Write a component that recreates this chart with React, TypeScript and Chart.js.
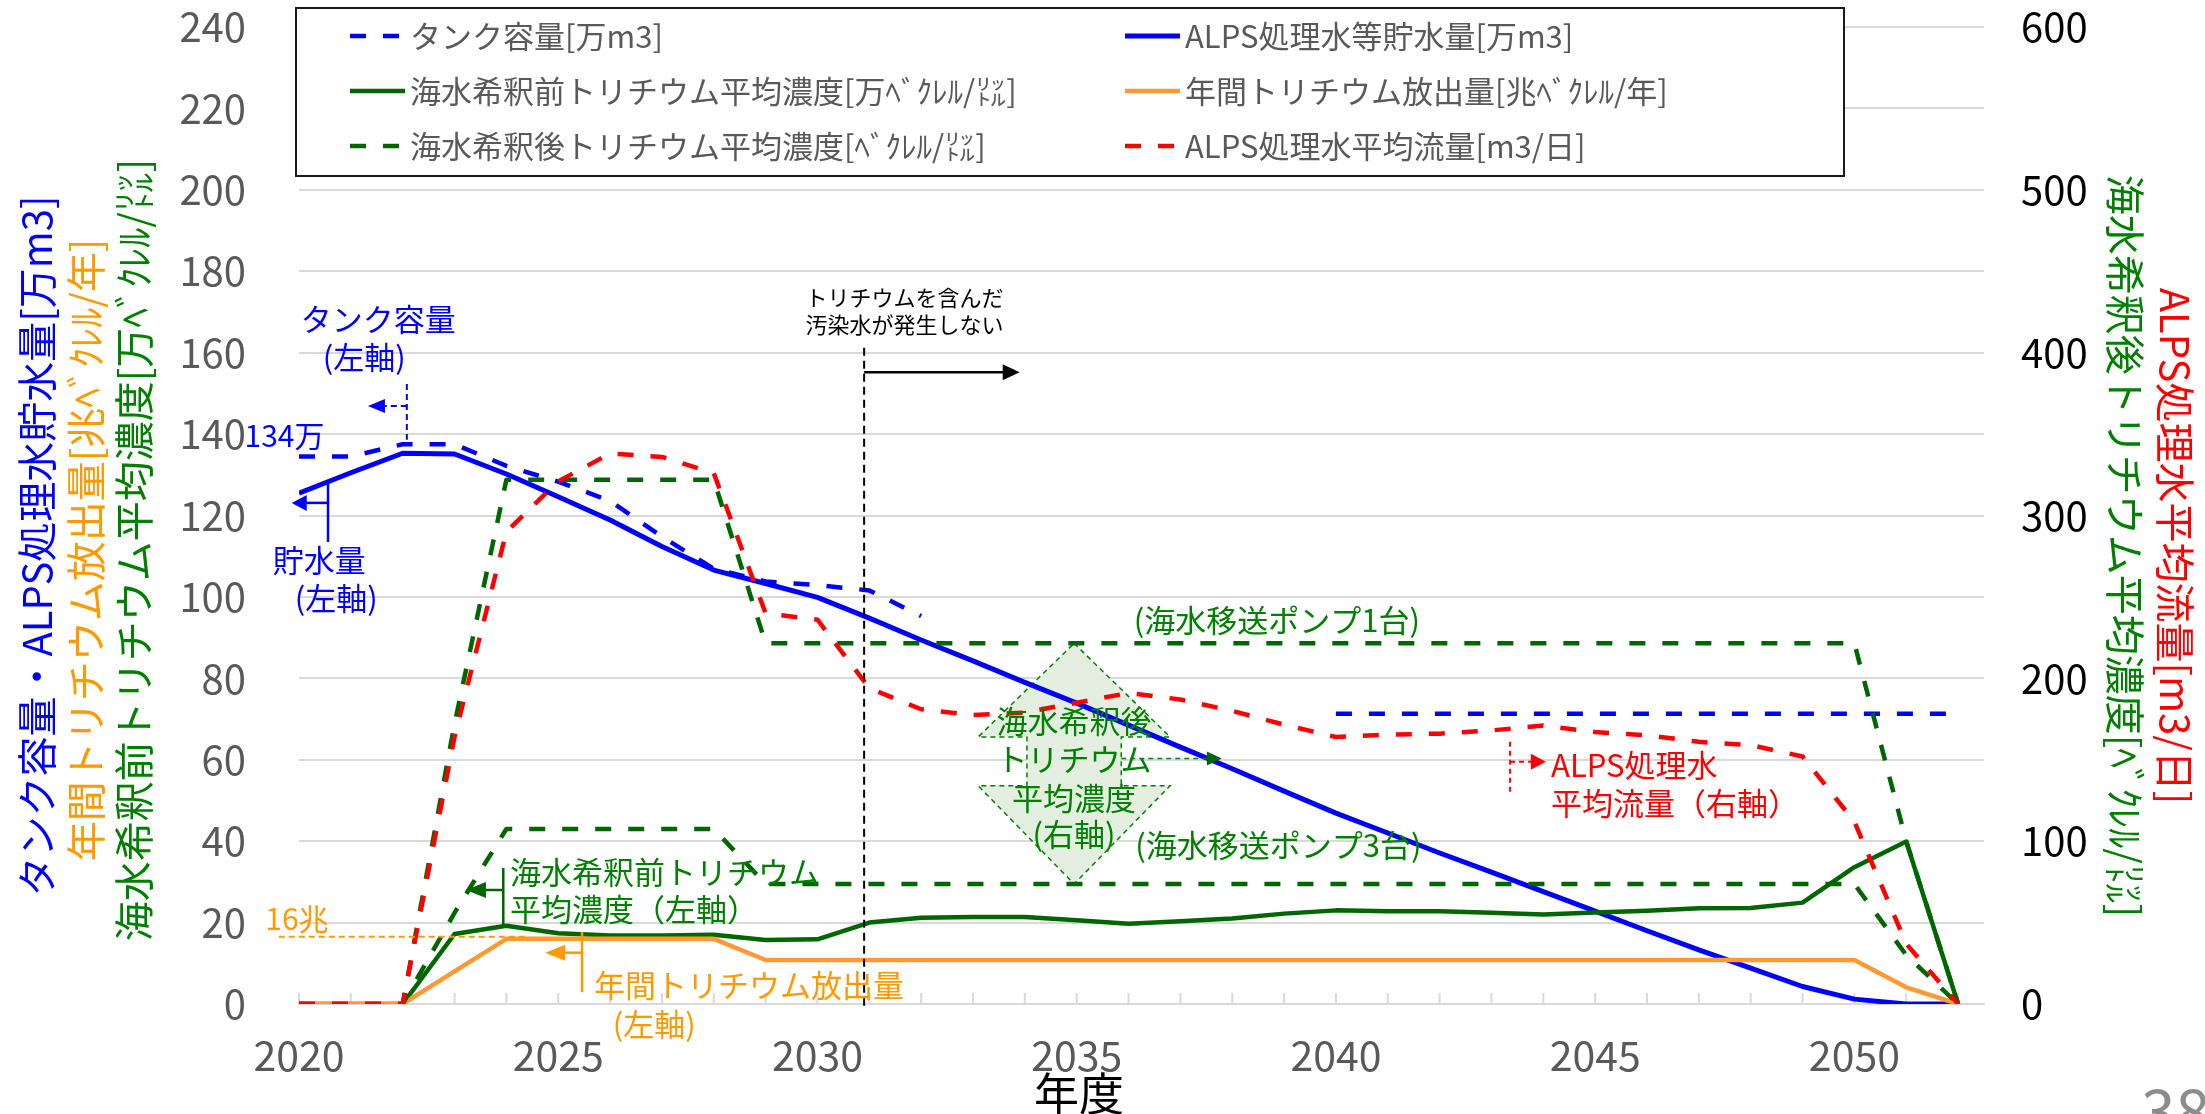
import React, { useEffect, useRef } from "react";
import { Chart, registerables } from "chart.js";

Chart.register(...registerables);

const FONT = "'Noto Sans CJK JP', 'Noto Sans', sans-serif";

// ---------------- data ----------------
const years = [
  2020, 2021, 2022, 2023, 2024, 2025, 2026, 2027, 2028, 2029, 2030,
  2031, 2032, 2033, 2034, 2035, 2036, 2037, 2038, 2039, 2040, 2041,
  2042, 2043, 2044, 2045, 2046, 2047, 2048, 2049, 2050, 2051, 2052,
];

// タンク容量 [万m3] (left axis)
const tankCapacity = [
  134.5, 134.5, 137.5, 137.5, 132.2, 128.3, 123.6, 114.8, 106.9, 103.8, 102.9,
  101.6, 95.3, null, null, null, null, null, null, null, 71.3, 71.3,
  71.3, 71.3, 71.3, 71.3, 71.3, 71.3, 71.3, 71.3, 71.3, 71.3, 71.3,
];

// ALPS処理水等貯水量 [万m3] (left axis)
const storedWater = [
  125.5, 130.5, 135.3, 135.1, 130.2, 124.6, 118.9, 112.4, 106.6, 103.3, 99.9,
  94.8, 89.4, 84.3, 79.0, 73.9, 68.5, 63.1, 57.8, 52.3, 46.9, 42.0,
  37.1, 32.4, 27.6, 22.8, 18.0, 13.3, 8.8, 4.3, 1.2, 0, 0,
];

// 海水希釈前トリチウム平均濃度 [万Bq/L] (left axis)
const preDilutionConc = [
  0, 0, 0, 17.2, 19.2, 17.4, 16.8, 16.8, 17.0, 15.7, 15.9,
  20.0, 21.2, 21.4, 21.4, 20.6, 19.7, 20.3, 21.0, 22.2, 23.0, 22.8,
  22.8, 22.4, 22.0, 22.5, 22.9, 23.5, 23.6, 24.9, 33.6, 39.9, 0,
];

// 年間トリチウム放出量 [兆Bq/年] (left axis)
const annualRelease = [
  0, 0, 0, 8.0, 16, 16, 16, 16, 16, 10.8, 10.8,
  10.8, 10.8, 10.8, 10.8, 10.8, 10.8, 10.8, 10.8, 10.8, 10.8, 10.8,
  10.8, 10.8, 10.8, 10.8, 10.8, 10.8, 10.8, 10.8, 10.8, 4.1, 0,
];

// 海水希釈後トリチウム平均濃度 [Bq/L] (right axis) - 海水移送ポンプ1台
const postDilutionOnePump = [
  0, 0, 0, 172, 322, 322, 322, 322, 322, 221.5, 221.5,
  221.5, 221.5, 221.5, 221.5, 221.5, 221.5, 221.5, 221.5, 221.5, 221.5, 221.5,
  221.5, 221.5, 221.5, 221.5, 221.5, 221.5, 221.5, 221.5, 221.5, 100, 0,
];

// 海水希釈後トリチウム平均濃度 [Bq/L] (right axis) - 海水移送ポンプ3台
const postDilutionThreePumps = [
  0, 0, 0, 56, 107.5, 107.5, 107.5, 107.5, 107.5, 73.7, 73.7,
  73.7, 73.7, 73.7, 73.7, 73.7, 73.7, 73.7, 73.7, 73.7, 73.7, 73.7,
  73.7, 73.7, 73.7, 73.7, 73.7, 73.7, 73.7, 73.7, 73.7, 30, 0,
];

// ALPS処理水平均流量 [m3/日] (right axis)
const alpsFlow = [
  0, 0, 0, 164, 290, 321, 338, 336, 326, 240, 236,
  194, 181, 177.5, 179, 185, 191, 187, 180, 171.5, 164, 165.5,
  166, 168, 171, 167, 165, 161, 159, 152, 112, 37, 0,
];

const xTickValues = [2020, 2025, 2030, 2035, 2040, 2045, 2050];
const leftTickValues = [0, 20, 40, 60, 80, 100, 120, 140, 160, 180, 200, 220, 240];
const rightTickValues = [0, 100, 200, 300, 400, 500, 600];

const LBL_TANK = "タンク容量[万m3]";
const LBL_STORE = "ALPS処理水等貯水量[万m3]";
const LBL_PRE = "海水希釈前トリチウム平均濃度[万ﾍﾞｸﾚﾙ/㍑]";
const LBL_REL = "年間トリチウム放出量[兆ﾍﾞｸﾚﾙ/年]";
const LBL_POST = "海水希釈後トリチウム平均濃度[ﾍﾞｸﾚﾙ/㍑]";
const LBL_FLOW = "ALPS処理水平均流量[m3/日]";

const TITLE_LEFT_BLUE = "タンク容量・ALPS処理水貯水量[万m3]";
const TITLE_LEFT_ORANGE = "年間トリチウム放出量[兆ﾍﾞｸﾚﾙ/年]";
const TITLE_LEFT_GREEN = "海水希釈前トリチウム平均濃度[万ﾍﾞｸﾚﾙ/㍑]";
const TITLE_RIGHT_GREEN = "海水希釈後トリチウム平均濃度[ﾍﾞｸﾚﾙ/㍑]";
const TITLE_RIGHT_RED = "ALPS処理水平均流量[m3/日]";

// ---------------- styles ----------------
const BLUE = "#0000ff";
const GREEN_LINE = "#006600";
const GREEN_TEXT = "#008000";
const ORANGE_LINE = "#ff9933";
const ORANGE_TEXT = "#ff9900";
const RED = "#ff0000";
const DASH = [16, 17];

function makeDataset(label: string, arr: (number | null)[], axis: string, color: string, width: number, dash: number[], order: number) {
  return {
    label,
    data: years.map((yr, i) => ({ x: yr, y: arr[i] })),
    yAxisID: axis,
    borderColor: color,
    backgroundColor: color,
    borderWidth: width,
    borderDash: dash,
    borderCapStyle: "butt",
    borderJoinStyle: "round",
    pointRadius: 0,
    pointHoverRadius: 0,
    fill: false,
    tension: 0,
    spanGaps: false,
    order,
  };
}

function arrowHead(ctx: CanvasRenderingContext2D, tipX: number, tipY: number, dir: number, len: number, half: number, color: string) {
  ctx.save();
  ctx.setLineDash([]);
  ctx.beginPath();
  ctx.moveTo(tipX, tipY);
  ctx.lineTo(tipX - dir * len, tipY - half);
  ctx.lineTo(tipX - dir * len, tipY + half);
  ctx.closePath();
  ctx.fillStyle = color;
  ctx.fill();
  ctx.restore();
}

function seg(ctx: CanvasRenderingContext2D, x1: number, y1: number, x2: number, y2: number, color: string, width: number, dash: number[] = []) {
  ctx.save();
  ctx.setLineDash(dash);
  ctx.strokeStyle = color;
  ctx.lineWidth = width;
  ctx.beginPath();
  ctx.moveTo(x1, y1);
  ctx.lineTo(x2, y2);
  ctx.stroke();
  ctx.restore();
}

function txt(ctx: CanvasRenderingContext2D, s: string, x: number, y: number, color: string, size: number, align: CanvasTextAlign = "center") {
  ctx.save();
  ctx.font = `${size}px ${FONT}`;
  ctx.fillStyle = color;
  ctx.textAlign = align;
  ctx.textBaseline = "middle";
  ctx.fillText(s, x, y);
  ctx.restore();
}

function rotText(ctx: CanvasRenderingContext2D, s: string, x: number, y: number, angle: number, color: string, size: number) {
  ctx.save();
  ctx.translate(x, y);
  ctx.rotate(angle);
  ctx.font = `${size}px ${FONT}`;
  ctx.fillStyle = color;
  ctx.textAlign = "center";
  ctx.textBaseline = "middle";
  ctx.fillText(s, 0, 0);
  ctx.restore();
}

const overlayPlugin = {
  id: "overlay",
  beforeDatasetsDraw(chart: any) {
    const { ctx, chartArea: ca, scales } = chart;
    const X = (v: number) => scales.x.getPixelForValue(v);
    const YR = (v: number) => scales.y1.getPixelForValue(v);
    ctx.save();
    // year tick marks (inside)
    years.forEach((yr) => seg(ctx, X(yr), ca.bottom, X(yr), ca.bottom - 11, "#d9d9d9", 2));
    // double-headed arrow shape (海水希釈後 concentration range)
    const c = 2034.95;
    const cx = X(c);
    const hw = X(c + 1.85) - cx;
    const sw = X(c + 0.91) - cx;
    const yTop = YR(221.5), yB1 = YR(164), yB2 = YR(134), yBot = YR(73.7);
    ctx.beginPath();
    ctx.moveTo(cx, yTop);
    ctx.lineTo(cx + hw, yB1);
    ctx.lineTo(cx + sw, yB1);
    ctx.lineTo(cx + sw, yB2);
    ctx.lineTo(cx + hw, yB2);
    ctx.lineTo(cx, yBot);
    ctx.lineTo(cx - hw, yB2);
    ctx.lineTo(cx - sw, yB2);
    ctx.lineTo(cx - sw, yB1);
    ctx.lineTo(cx - hw, yB1);
    ctx.closePath();
    ctx.fillStyle = "#e3eee0";
    ctx.fill();
    ctx.setLineDash([5, 4]);
    ctx.strokeStyle = GREEN_TEXT;
    ctx.lineWidth = 1.5;
    ctx.stroke();
    ctx.restore();
  },
  afterDatasetsDraw(chart: any) {
    const { ctx, chartArea: ca, scales } = chart;
    const X = (v: number) => scales.x.getPixelForValue(v);
    const YL = (v: number) => scales.y.getPixelForValue(v);
    const YR = (v: number) => scales.y1.getPixelForValue(v);

    // --- "no more contaminated water" marker ---
    const xv = X(2030.9);
    seg(ctx, xv, YL(161.2), xv, ca.bottom + 2, "#000", 2, [8, 5]);
    seg(ctx, xv, YL(155.2), X(2033.9) - 16, YL(155.2), "#000", 2.5);
    arrowHead(ctx, X(2033.9), YL(155.2), 1, 17, 8, "#000");
    txt(ctx, "トリチウムを含んだ", X(2031.68), YL(173.5), "#000", 22);
    txt(ctx, "汚染水が発生しない", X(2031.68), YL(166.8), "#000", 22);

    // --- tank capacity annotation ---
    txt(ctx, "タンク容量", X(2021.53), YL(168.1), BLUE, 31);
    txt(ctx, "(左軸)", X(2021.26), YL(158.9), BLUE, 31);
    const xt = X(2022.08);
    seg(ctx, xt, YL(152.3), xt, YL(138.6), BLUE, 2, [6, 4]);
    seg(ctx, xt, YL(146.9), X(2021.66), YL(146.9), BLUE, 2, [6, 4]);
    arrowHead(ctx, X(2021.33), YL(146.9), -1, 17, 7, BLUE);
    txt(ctx, "134万", X(2019.72), YL(139.6), BLUE, 30);

    // --- stored water annotation ---
    const xs = X(2020.56);
    seg(ctx, xs, YL(128.3), xs, YL(113.5), BLUE, 2.5);
    seg(ctx, xs, YL(123.1), X(2019.86) + 14, YL(123.1), BLUE, 2.5);
    arrowHead(ctx, X(2019.86), YL(123.1), -1, 15, 8, BLUE);
    txt(ctx, "貯水量", X(2020.39), YL(109.1), BLUE, 31);
    txt(ctx, "(左軸)", X(2020.72), YL(99.6), BLUE, 31);

    // --- pre-dilution concentration annotation ---
    const xg = X(2023.94);
    seg(ctx, xg, YL(33.4), xg, YL(19.2), GREEN_LINE, 2.5);
    seg(ctx, xg, YL(28.0), X(2023.22) + 18, YL(28.0), GREEN_LINE, 2.5);
    arrowHead(ctx, X(2023.22), YL(28.0), -1, 20, 8, GREEN_LINE);
    txt(ctx, "海水希釈前トリチウム", X(2024.07), YL(32.4), GREEN_TEXT, 31, "left");
    txt(ctx, "平均濃度（左軸）", X(2024.07), YL(23.3), GREEN_TEXT, 31, "left");

    // --- annual release annotation ---
    const xo = X(2025.46);
    seg(ctx, xo, YL(17.7), xo, YL(2.9), ORANGE_TEXT, 2.5);
    seg(ctx, xo, YL(12.6), X(2024.75) + 18, YL(12.6), ORANGE_TEXT, 2.5);
    arrowHead(ctx, X(2024.75), YL(12.6), -1, 20, 8, ORANGE_TEXT);
    txt(ctx, "年間トリチウム放出量", X(2025.69), YL(4.7), ORANGE_TEXT, 31, "left");
    txt(ctx, "(左軸)", X(2026.85), YL(-4.9), ORANGE_TEXT, 31);
    seg(ctx, X(2019.61), YL(16.5), X(2024.36), YL(16.5), ORANGE_TEXT, 2, [6, 4]);
    txt(ctx, "16兆", X(2019.96), YL(21.1), ORANGE_TEXT, 30);

    // --- post-dilution labels ---
    txt(ctx, "(海水移送ポンプ1台)", X(2038.86), YR(235.9), GREEN_TEXT, 31);
    txt(ctx, "(海水移送ポンプ3台)", X(2038.89), YR(97.7), GREEN_TEXT, 31);
    const c = 2034.95;
    txt(ctx, "海水希釈後", X(c), YR(173.8), GREEN_TEXT, 31);
    txt(ctx, "トリチウム", X(c), YR(150.1), GREEN_TEXT, 31);
    txt(ctx, "平均濃度", X(c), YR(126.5), GREEN_TEXT, 31);
    txt(ctx, "(右軸)", X(c), YR(104.0), GREEN_TEXT, 31);
    seg(ctx, X(c + 0.91), YR(150.8), X(2037.8) - 14, YR(150.8), GREEN_TEXT, 1.5, [5, 4]);
    arrowHead(ctx, X(2037.8), YR(150.8), 1, 15, 7, GREEN_LINE);

    // --- ALPS flow annotation ---
    const xr = X(2043.36);
    seg(ctx, xr, YR(161.1), xr, YR(129.6), RED, 2, [5, 4]);
    seg(ctx, xr, YR(148.8), X(2044.05) - 13, YR(148.8), RED, 2, [5, 4]);
    arrowHead(ctx, X(2044.05), YR(148.8), 1, 15, 8, RED);
    txt(ctx, "ALPS処理水", X(2044.15), YR(146.8), RED, 31, "left");
    txt(ctx, "平均流量（右軸）", X(2044.15), YR(123.5), RED, 31, "left");
  },
  afterDraw(chart: any) {
    const { ctx } = chart;
    // ---- legend box ----
    ctx.save();
    ctx.fillStyle = "#ffffff";
    ctx.fillRect(296, 8, 1548, 168);
    ctx.strokeStyle = "#1a1a1a";
    ctx.lineWidth = 2;
    ctx.strokeRect(296, 8, 1548, 168);
    const rows = [
      [LBL_TANK, LBL_STORE],
      [LBL_PRE, LBL_REL],
      [LBL_POST, LBL_FLOW],
    ];
    const rowY = [36, 91, 146];
    const colX = [350, 1125];
    rows.forEach((row, ri) => {
      row.forEach((label, ci) => {
        const ds = chart.data.datasets.find((d: any) => d.label === label);
        if (!ds) return;
        const y = rowY[ri];
        const x0 = colX[ci];
        seg(ctx, x0, y, x0 + 55, y, ds.borderColor, ds.borderWidth, ds.borderDash || []);
        txt(ctx, label, x0 + 60, y, "#595959", 31, "left");
      });
    });
    ctx.restore();

    // ---- axis titles ----
    rotText(ctx, TITLE_LEFT_BLUE, 37, 546, -Math.PI / 2, BLUE, 40);
    rotText(ctx, TITLE_LEFT_ORANGE, 86, 550, -Math.PI / 2, ORANGE_TEXT, 40);
    rotText(ctx, TITLE_LEFT_GREEN, 134, 550, -Math.PI / 2, GREEN_TEXT, 40);
    rotText(ctx, TITLE_RIGHT_GREEN, 2125, 546, Math.PI / 2, GREEN_TEXT, 40);
    rotText(ctx, TITLE_RIGHT_RED, 2175, 546, Math.PI / 2, RED, 40);
    txt(ctx, "年度", 1079, 1094, "#000", 45);
    ctx.save();
    ctx.font = `62px ${FONT}`;
    ctx.fillStyle = "#8c8c8c";
    ctx.textAlign = "left";
    ctx.textBaseline = "alphabetic";
    ctx.fillText("38", 2141, 1134);
    ctx.restore();
  },
};

export default function App() {
  const ref = useRef<HTMLCanvasElement | null>(null);

  useEffect(() => {
    if (!ref.current) return;
    const datasets = [
      makeDataset(LBL_FLOW, alpsFlow, "y1", RED, 4.5, DASH, 0),
      makeDataset(LBL_POST, postDilutionThreePumps, "y1", GREEN_LINE, 4.5, DASH, 1),
      makeDataset(LBL_POST + " ", postDilutionOnePump, "y1", GREEN_LINE, 4.5, DASH, 2),
      makeDataset(LBL_REL, annualRelease, "y", ORANGE_LINE, 4.5, [], 3),
      makeDataset(LBL_PRE, preDilutionConc, "y", GREEN_LINE, 4.5, [], 4),
      makeDataset(LBL_STORE, storedWater, "y", BLUE, 5, [], 5),
      makeDataset(LBL_TANK, tankCapacity, "y", BLUE, 4.5, DASH, 6),
    ];
    const zeroPad = (s: any) => {
      s.paddingTop = 0;
      s.paddingBottom = 0;
      s.paddingLeft = 0;
      s.paddingRight = 0;
    };
    const chart = new Chart(ref.current, {
      type: "line",
      data: { datasets } as any,
      plugins: [overlayPlugin as any],
      options: {
        responsive: false,
        devicePixelRatio: 1,
        animation: false,
        events: [],
        layout: { padding: { top: 27, left: 0, right: 0, bottom: 0 } },
        plugins: { legend: { display: false }, tooltip: { enabled: false } },
        scales: {
          x: {
            type: "linear",
            min: 2020,
            max: 2052.5,
            afterBuildTicks: (s: any) => {
              s.ticks = xTickValues.map((v) => ({ value: v }));
            },
            ticks: {
              callback: (v: any) => String(v),
              color: "#595959",
              font: { size: 41, family: FONT },
              padding: 27,
              maxRotation: 0,
              autoSkip: false,
            },
            grid: { display: true, drawOnChartArea: false, drawTicks: false },
            border: { display: true, color: "#d9d9d9", width: 2 },
            afterFit: (s: any) => {
              s.height = 110;
              zeroPad(s);
            },
          },
          y: {
            type: "linear",
            position: "left",
            min: 0,
            max: 240,
            afterBuildTicks: (s: any) => {
              s.ticks = leftTickValues.map((v) => ({ value: v }));
            },
            ticks: { color: "#595959", font: { size: 40, family: FONT }, padding: 53 },
            grid: { color: "#d9d9d9", lineWidth: 2, drawTicks: false },
            border: { display: false },
            afterFit: (s: any) => {
              s.width = 299;
              zeroPad(s);
            },
          },
          y1: {
            type: "linear",
            position: "right",
            min: 0,
            max: 600,
            afterBuildTicks: (s: any) => {
              s.ticks = rightTickValues.map((v) => ({ value: v }));
            },
            ticks: { color: "#000000", font: { size: 40, family: FONT }, padding: 37 },
            grid: { display: false, drawTicks: false },
            border: { display: false },
            afterFit: (s: any) => {
              s.width = 221;
              zeroPad(s);
            },
          },
        },
      } as any,
    });
    let alive = true;
    if ((document as any).fonts && (document as any).fonts.load) {
      (document as any).fonts.load(`31px ${FONT}`).then(() => {
        if (alive) chart.update();
      });
    }
    return () => {
      alive = false;
      chart.destroy();
    };
  }, []);

  return (
    <div style={{ position: "fixed", left: 0, top: 0, width: 2205, height: 1114, background: "#ffffff", overflow: "hidden" }}>
      <canvas ref={ref} width={2205} height={1114} style={{ display: "block", width: "2205px", height: "1114px" }} />
    </div>
  );
}
